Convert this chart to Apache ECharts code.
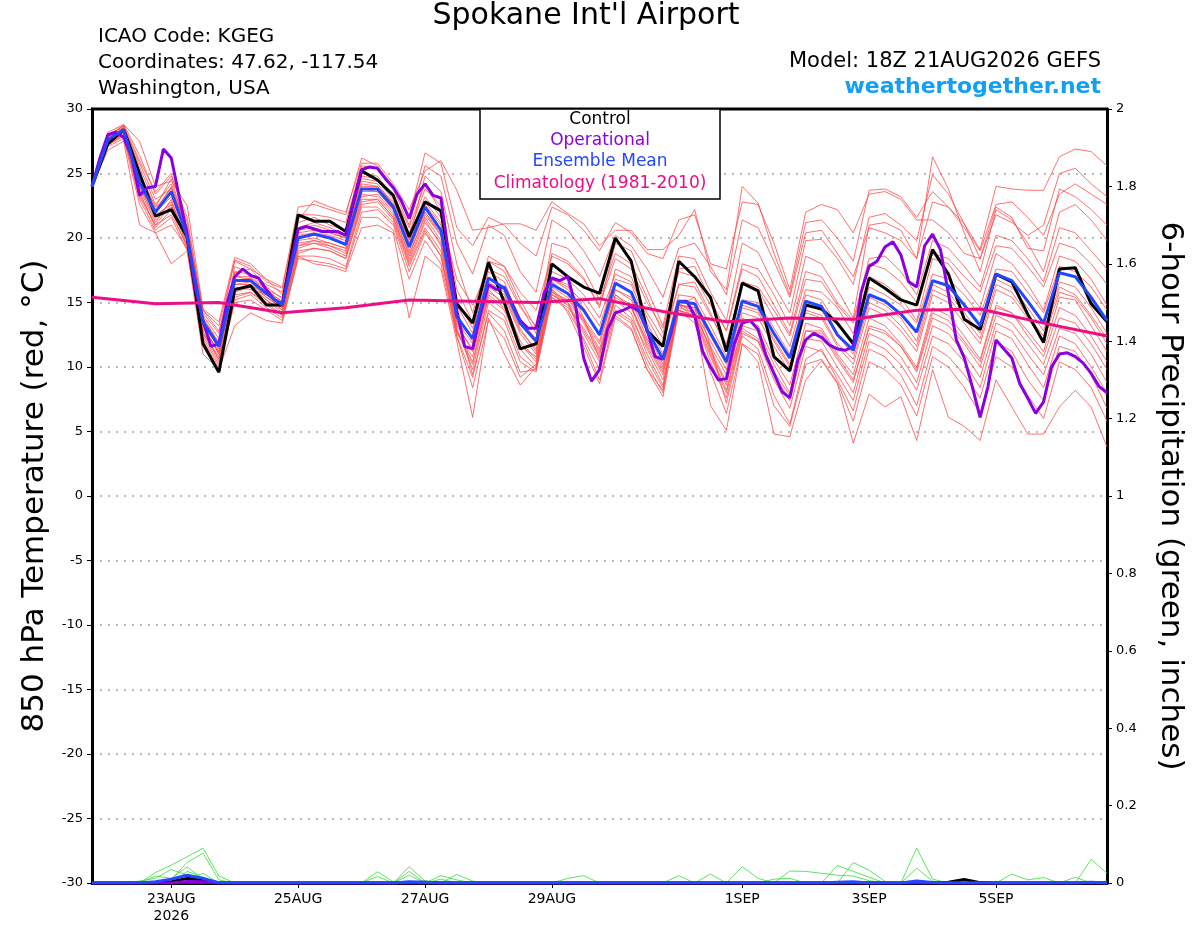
<!DOCTYPE html>
<html>
<head>
<meta charset="utf-8">
<title>Spokane Int'l Airport</title>
<script src="https://cdn.jsdelivr.net/npm/echarts@6.0.0/dist/echarts.min.js"></script>
<style>
  html, body { margin: 0; padding: 0; background: #fff; }
  #chart { width: 1200px; height: 927px; }
</style>
</head>
<body>
<div id="chart"></div>
<script>
// x is hours after 18Z 21AUG2026; ensemble output every 6 h, operational every 3 h
var tickHours = [30, 78, 126, 174, 246, 294, 342];
var tickLabels = ['23AUG\n2026', '25AUG', '27AUG', '29AUG', '1SEP', '3SEP', '5SEP'];

// 850 hPa temperature, deg C
var control = [24.0, 27.3, 28.4, 25.0, 21.7, 22.2, 20.1, 11.8, 9.6, 16.0,
  16.3, 14.8, 14.8, 21.8, 21.3, 21.3, 20.5, 25.2, 24.5, 23.3,
  20.1, 22.8, 22.1, 14.9, 13.4, 18.1, 15.0, 11.4, 11.8, 18.0,
  17.0, 16.2, 15.7, 20.0, 18.2, 12.8, 11.6, 18.2, 17.0, 15.4,
  11.2, 16.5, 15.9, 10.8, 9.7, 14.8, 14.5, 13.4, 11.8, 16.9,
  16.1, 15.2, 14.8, 19.1, 17.2, 13.7, 12.9, 17.2, 16.6, 14.1,
  11.9, 17.6, 17.7, 14.9, 13.5];

var ensMean = [24.0, 27.6, 28.4, 24.3, 22.0, 23.6, 20.1, 13.5, 11.6, 16.7,
  16.7, 15.7, 14.8, 20.0, 20.3, 20.0, 19.5, 23.8, 23.8, 22.4,
  19.3, 22.4, 20.6, 13.9, 12.2, 16.9, 16.1, 13.4, 12.0, 16.4,
  15.7, 14.4, 12.5, 16.5, 15.8, 12.9, 10.6, 15.1, 14.9, 12.6,
  10.4, 15.1, 14.7, 12.6, 10.7, 15.1, 14.7, 12.5, 11.3, 15.6,
  15.1, 14.1, 12.7, 16.7, 16.3, 14.8, 13.2, 17.2, 16.7, 15.1,
  13.4, 17.3, 17.0, 15.4, 13.6];

var operational = [24.0, 26.2, 28.0, 28.2, 27.8, 26.3, 23.3, 23.9, 24.0, 26.9,
  26.2, 23.2, 20.3, 16.2, 13.6, 11.6, 11.8, 14.9, 17.0, 17.6,
  17.1, 16.9, 16.0, 15.2, 14.9, 17.8, 20.7, 20.9, 20.7, 20.5,
  20.5, 20.5, 20.2, 22.9, 25.3, 25.5, 25.4, 24.6, 23.9, 22.9,
  21.5, 23.4, 24.2, 23.3, 23.1, 18.6, 14.4, 11.6, 11.4, 14.1,
  16.4, 16.0, 16.2, 14.9, 13.6, 13.0, 13.0, 15.7, 16.9, 16.7,
  17.0, 14.7, 10.7, 8.9, 9.8, 12.9, 14.2, 14.4, 14.7, 14.3,
  12.9, 10.8, 10.6, 12.6, 15.1, 15.1, 14.0, 11.2, 10.0, 9.0,
  9.1, 11.8, 13.4, 13.6, 12.9, 10.9, 9.5, 8.1, 7.6, 10.5,
  12.1, 12.6, 12.3, 11.7, 11.4, 11.3, 11.6, 15.8, 17.8, 18.2,
  19.3, 19.7, 18.7, 16.6, 16.2, 19.4, 20.3, 19.1, 15.7, 12.1,
  10.7, 8.5, 6.1, 8.5, 12.1, 11.4, 10.7, 8.7, 7.6, 6.4,
  7.3, 10.0, 11.0, 11.1, 10.8, 10.3, 9.5, 8.5, 8.0];

// climatology, one value per day
var climatology = [15.4, 14.9, 15.0, 14.2, 14.6, 15.2, 15.1, 15.0, 15.3,
  14.3, 13.5, 13.8, 13.7, 14.4, 14.5, 13.4, 12.4];

var mem01 = [24.0, 27.9, 28.6, 25.5, 22.6, 24.2, 20.8, 14.0, 12.2, 17.3, 17.6, 16.2, 15.3, 21.2, 21.6, 21.0, 20.6, 25.0, 24.8, 23.2, 20.4, 23.8, 22.5,
  16.0, 13.5, 18.6, 17.8, 15.2, 13.0, 18.8, 18.2, 16.9, 14.6, 19.6, 19.0, 16.0, 13.2, 18.6, 18.4, 15.8, 13.6, 19.6, 18.9,
  16.3, 14.2, 19.8, 19.9, 18.4, 16.4, 21.6, 21.9, 21.0, 19.8, 24.9, 23.4, 21.1, 19.1, 24.0, 23.8, 23.7, 23.7, 26.3, 26.9, 26.7, 25.6];
var mem02 = [24.0, 27.5, 28.3, 24.8, 22.4, 24.6, 20.5, 13.2, 11.0, 17.8, 17.2, 16.4, 15.8, 20.6, 21.0, 20.6, 20.0, 24.6, 24.4, 23.0, 19.9, 24.8, 23.6,
  18.0, 14.2, 18.2, 17.4, 14.8, 12.6, 19.6, 19.2, 17.6, 15.2, 18.8, 18.0, 15.4, 12.6, 17.6, 17.8, 15.2, 12.8, 18.0, 17.6,
  15.6, 13.2, 18.6, 18.0, 16.0, 13.8, 21.0, 21.2, 20.6, 18.4, 26.3, 23.8, 20.4, 17.4, 22.2, 21.4, 19.6, 17.4, 22.0, 22.6, 21.4, 19.8];
var mem03 = [24.0, 27.8, 28.8, 26.4, 23.4, 24.8, 21.6, 14.2, 12.6, 18.3, 17.8, 16.6, 16.1, 21.8, 21.8, 21.6, 21.2, 25.6, 25.4, 23.8, 21.0, 25.6, 24.8,
  19.6, 17.2, 21.0, 20.2, 17.4, 15.8, 21.4, 20.6, 19.0, 17.0, 20.2, 19.4, 17.6, 15.4, 19.2, 19.6, 17.8, 15.6, 21.4, 20.8,
  18.2, 15.4, 20.4, 20.6, 18.8, 17.0, 20.8, 20.4, 19.8, 18.4, 22.8, 22.4, 20.8, 19.0, 22.6, 22.8, 21.6, 20.2, 23.4, 24.2, 23.4, 22.6];
var mem04 = [24.0, 27.4, 28.1, 23.8, 21.2, 23.0, 19.6, 12.8, 10.6, 16.0, 16.2, 15.2, 14.4, 19.4, 19.8, 19.4, 19.0, 23.2, 23.4, 22.0, 18.6, 21.8, 20.2,
  14.8, 12.6, 18.2, 17.8, 15.8, 14.4, 18.6, 18.0, 16.8, 14.8, 18.4, 17.6, 15.0, 13.0, 17.4, 17.0, 14.8, 12.8, 17.6, 17.0,
  14.8, 12.6, 17.4, 17.0, 15.0, 13.6, 18.4, 18.6, 17.4, 15.6, 19.8, 19.2, 17.8, 16.2, 20.2, 19.8, 18.4, 16.6, 20.8, 20.4, 19.0, 17.6];
var mem05 = [24.0, 27.7, 28.5, 24.6, 22.2, 23.9, 20.4, 13.8, 11.9, 16.6, 16.9, 15.9, 15.1, 20.4, 20.6, 20.4, 20.0, 24.2, 24.0, 22.8, 20.0, 23.2, 21.6,
  16.8, 14.8, 17.6, 17.0, 14.6, 13.2, 17.4, 16.8, 15.6, 13.8, 17.2, 16.6, 14.2, 12.2, 16.4, 16.2, 14.0, 11.8, 16.6, 16.2,
  14.4, 12.4, 16.8, 16.6, 14.8, 13.4, 18.0, 17.6, 16.6, 15.0, 18.8, 18.4, 17.0, 15.8, 19.4, 19.2, 17.8, 16.2, 19.6, 19.2, 18.0, 16.4];
var mem06 = [24.0, 27.2, 28.0, 23.2, 21.0, 22.6, 19.4, 12.4, 10.4, 15.4, 15.8, 15.0, 14.0, 19.2, 19.6, 19.2, 18.6, 22.8, 23.0, 21.6, 18.2, 21.2, 19.6,
  13.2, 11.4, 16.6, 15.8, 13.0, 11.2, 16.8, 16.0, 14.6, 12.4, 17.6, 17.0, 13.8, 11.6, 16.4, 16.6, 14.2, 11.4, 16.4, 16.0,
  13.8, 11.6, 16.0, 15.8, 14.6, 12.6, 17.0, 16.4, 15.4, 13.6, 18.4, 18.0, 16.2, 14.6, 18.8, 18.0, 16.4, 14.4, 18.6, 18.2, 16.8, 14.8];
var mem07 = [24.0, 28.0, 28.7, 25.0, 22.4, 23.4, 20.0, 13.6, 11.4, 16.4, 16.4, 15.4, 14.6, 20.8, 21.2, 20.8, 20.2, 24.8, 24.6, 23.4, 20.8, 24.2, 22.0,
  15.2, 13.0, 17.4, 16.6, 13.6, 12.2, 16.8, 16.2, 15.0, 13.2, 16.8, 16.4, 13.4, 11.0, 15.6, 15.4, 13.2, 10.8, 15.2, 15.0,
  13.0, 11.0, 15.6, 15.2, 13.2, 12.0, 16.2, 15.6, 14.8, 13.4, 17.2, 16.8, 15.6, 14.0, 17.6, 17.4, 15.8, 14.2, 17.8, 17.4, 16.2, 14.4];
var mem08 = [24.0, 27.3, 28.2, 24.0, 21.6, 22.8, 19.8, 13.0, 11.2, 16.2, 16.0, 15.6, 14.8, 19.8, 20.0, 19.6, 19.2, 23.6, 23.6, 22.2, 19.0, 22.0, 20.4,
  13.6, 11.8, 16.2, 15.4, 12.6, 11.0, 15.8, 15.0, 13.6, 11.8, 16.0, 15.2, 12.2, 10.0, 14.8, 14.6, 12.4, 10.2, 14.8, 14.4,
  12.2, 10.2, 14.8, 14.4, 12.4, 11.0, 15.4, 14.8, 13.8, 12.0, 16.4, 15.8, 14.2, 12.6, 16.8, 16.2, 14.6, 12.8, 16.6, 16.2, 14.6, 12.6];
var mem09 = [24.0, 27.6, 28.4, 23.6, 20.8, 22.2, 19.2, 12.6, 10.8, 15.8, 16.2, 15.2, 14.2, 18.8, 19.2, 19.0, 18.4, 22.6, 22.8, 21.4, 18.0, 20.8, 19.0,
  12.6, 10.8, 15.8, 15.0, 12.0, 10.6, 15.4, 14.6, 13.0, 11.0, 15.4, 14.6, 11.6, 9.4, 14.4, 14.0, 11.6, 9.4, 14.2, 13.8,
  11.6, 9.6, 14.2, 13.8, 11.6, 10.2, 14.6, 14.0, 12.8, 11.2, 15.6, 15.0, 13.4, 11.8, 16.0, 15.4, 13.8, 12.0, 15.8, 15.4, 13.8, 11.8];
var mem10 = [24.0, 27.5, 28.3, 24.4, 22.0, 24.0, 20.6, 14.4, 12.8, 17.0, 17.0, 16.0, 15.0, 20.2, 20.4, 20.2, 19.8, 24.0, 24.0, 22.6, 19.6, 22.6, 21.0,
  14.2, 12.0, 16.4, 15.6, 12.8, 11.4, 15.8, 15.2, 13.8, 12.0, 16.0, 15.4, 12.6, 10.2, 14.8, 14.4, 12.0, 9.8, 14.6, 14.2,
  12.0, 10.0, 14.4, 14.0, 11.8, 10.6, 15.0, 14.4, 13.2, 11.6, 16.0, 15.4, 13.8, 12.2, 16.4, 15.8, 14.0, 12.4, 16.2, 15.6, 14.0, 12.2];
var mem11 = [24.0, 27.2, 27.9, 23.0, 20.6, 21.6, 19.0, 12.2, 10.2, 15.2, 15.6, 14.6, 13.8, 18.6, 18.6, 18.4, 17.8, 22.0, 22.2, 21.0, 17.4, 20.4, 18.6,
  12.8, 10.2, 15.4, 14.4, 11.4, 10.0, 16.2, 15.4, 13.4, 11.2, 15.2, 14.2, 11.0, 8.6, 14.8, 14.6, 11.2, 8.6, 13.8, 13.2,
  10.6, 8.6, 13.4, 13.0, 11.0, 9.4, 13.8, 13.2, 11.8, 10.0, 14.6, 14.0, 12.4, 10.6, 14.8, 14.2, 12.4, 10.8, 14.6, 14.0, 12.4, 10.4];
var mem12 = [24.0, 27.4, 28.2, 24.2, 21.8, 22.6, 19.8, 13.2, 11.0, 16.4, 16.6, 15.4, 14.6, 19.6, 19.8, 19.6, 19.2, 23.4, 23.2, 21.8, 18.8, 21.6, 19.8,
  13.0, 9.8, 15.0, 14.0, 10.8, 9.8, 15.6, 14.8, 12.6, 10.4, 14.8, 13.8, 11.4, 9.0, 14.4, 14.0, 11.0, 8.2, 13.2, 12.8,
  10.2, 8.0, 12.8, 12.6, 10.6, 8.8, 13.2, 12.8, 11.6, 9.6, 13.8, 13.2, 11.8, 10.0, 14.0, 13.4, 11.8, 10.2, 13.8, 13.4, 11.8, 9.8];
var mem13 = [24.0, 27.8, 28.5, 24.8, 22.0, 23.2, 20.2, 13.4, 11.6, 17.0, 16.8, 15.8, 14.8, 20.0, 20.2, 20.0, 19.4, 23.8, 23.6, 22.2, 19.4, 22.0, 20.2,
  13.4, 11.2, 16.0, 14.8, 11.8, 10.4, 16.0, 15.0, 12.8, 10.8, 15.6, 14.8, 11.8, 9.6, 14.6, 14.2, 11.4, 8.8, 13.0, 12.2,
  9.4, 7.4, 12.2, 12.0, 10.0, 8.0, 12.6, 12.0, 10.8, 8.8, 13.2, 12.6, 11.0, 9.2, 13.4, 12.8, 11.0, 9.4, 13.0, 12.6, 11.0, 8.8];
var mem14 = [24.0, 27.1, 27.7, 22.6, 20.4, 21.0, 19.2, 12.0, 10.0, 15.0, 15.2, 14.4, 13.6, 18.4, 18.2, 18.0, 17.6, 21.6, 21.6, 20.6, 16.8, 19.8, 18.0,
  12.4, 9.2, 14.4, 13.6, 10.4, 9.6, 15.4, 14.4, 12.2, 9.8, 14.4, 13.6, 10.6, 8.4, 14.4, 13.8, 10.4, 7.6, 12.6, 12.0,
  9.0, 6.8, 11.6, 11.2, 9.4, 7.4, 12.0, 11.4, 10.2, 8.2, 12.4, 11.8, 10.4, 8.4, 12.8, 12.2, 10.2, 8.4, 12.4, 11.8, 10.0, 8.0];
var mem15 = [24.0, 27.6, 28.6, 25.8, 23.0, 23.8, 20.8, 13.8, 11.8, 17.4, 17.2, 16.0, 15.4, 20.6, 20.8, 20.4, 20.0, 24.4, 24.2, 22.6, 19.8, 22.8, 21.2,
  13.8, 9.4, 14.2, 12.8, 9.6, 9.8, 15.6, 15.0, 12.0, 9.0, 14.2, 13.4, 10.2, 8.0, 14.8, 15.4, 11.6, 7.2, 12.4, 11.4,
  7.8, 5.6, 10.6, 11.4, 9.0, 6.6, 11.4, 10.8, 9.4, 7.0, 11.6, 10.8, 9.4, 7.6, 12.0, 11.2, 9.0, 7.4, 11.6, 11.2, 9.4, 6.8];
var mem16 = [24.0, 27.3, 28.0, 23.4, 21.0, 21.8, 19.4, 12.6, 10.6, 15.6, 15.8, 14.8, 14.0, 19.0, 19.2, 19.0, 18.4, 22.4, 22.4, 21.2, 17.8, 20.6, 18.6,
  12.4, 8.4, 13.6, 12.2, 9.2, 10.2, 16.8, 16.4, 13.8, 10.6, 14.0, 13.0, 9.8, 7.7, 14.4, 13.4, 9.6, 6.4, 11.8, 11.0,
  7.0, 5.4, 10.2, 10.6, 8.8, 5.8, 10.4, 9.8, 8.6, 6.2, 10.8, 10.0, 8.4, 6.4, 10.8, 10.0, 7.8, 6.0, 10.4, 9.8, 8.4, 5.8];
var mem17 = [24.0, 27.9, 28.7, 26.0, 23.6, 25.0, 21.2, 14.4, 13.2, 18.2, 17.6, 16.8, 16.2, 22.4, 22.6, 22.2, 21.8, 26.2, 25.6, 24.0, 21.6, 26.6, 25.8,
  20.8, 19.4, 21.6, 21.0, 19.6, 18.6, 22.4, 21.8, 20.6, 19.0, 21.2, 20.4, 18.8, 18.4, 21.4, 21.8, 18.0, 17.6, 22.8, 22.6,
  19.6, 16.0, 22.0, 22.6, 22.2, 20.4, 23.4, 23.6, 23.0, 21.4, 21.4, 20.4, 18.8, 18.4, 21.8, 21.2, 20.2, 21.0, 25.0, 25.4, 24.2, 23.2];
var mem18 = [24.0, 26.8, 27.5, 21.0, 20.4, 18.0, 19.0, 11.0, 9.8, 13.2, 14.2, 13.6, 13.4, 18.6, 18.0, 17.8, 17.4, 20.8, 21.0, 20.4, 13.8, 18.6, 17.6,
  12.0, 6.1, 13.8, 11.0, 8.6, 10.0, 16.0, 14.2, 11.6, 8.7, 13.8, 12.9, 9.8, 8.2, 15.0, 14.0, 7.0, 5.1, 11.8, 10.4,
  4.8, 4.6, 9.0, 10.5, 8.7, 4.1, 7.9, 6.9, 7.7, 4.3, 9.8, 6.1, 5.4, 4.3, 9.0, 6.9, 4.8, 4.8, 6.9, 8.2, 6.9, 3.8];
var mem19 = [24.0, 28.2, 28.8, 27.5, 24.0, 24.4, 22.5, 14.5, 13.5, 18.5, 18.0, 16.8, 15.6, 21.4, 22.9, 22.4, 22.0, 25.8, 25.8, 24.2, 22.2, 25.2, 26.0,
  23.7, 20.6, 20.8, 21.1, 21.1, 20.6, 22.8, 21.9, 21.1, 19.4, 20.6, 20.6, 19.1, 19.1, 20.2, 22.2, 17.4, 16.0, 24.0, 22.7,
  18.8, 15.6, 21.2, 21.4, 20.0, 18.2, 23.7, 23.8, 23.2, 21.6, 23.6, 22.4, 21.1, 18.4, 22.4, 21.6, 19.2, 19.0, 23.8, 23.2, 22.2, 21.0];
var mem20 = [24.0, 27.5, 28.4, 24.0, 21.4, 22.4, 19.6, 13.0, 11.2, 16.0, 16.4, 15.6, 14.4, 19.4, 19.6, 19.4, 18.8, 23.0, 23.0, 21.6, 18.4, 21.4, 19.4,
  12.8, 10.4, 15.6, 14.6, 11.6, 10.8, 16.6, 15.6, 13.6, 11.4, 15.6, 14.6, 12.0, 9.8, 14.8, 13.8, 10.8, 8.0, 12.8, 12.0,
  9.6, 7.8, 12.8, 12.8, 10.8, 9.0, 13.0, 12.6, 11.6, 9.8, 14.2, 13.6, 12.0, 10.4, 14.6, 14.2, 12.8, 11.2, 15.4, 15.2, 13.2, 11.2];
var members = [mem01, mem02, mem03, mem04, mem05, mem06, mem07, mem08, mem09, mem10,
  mem11, mem12, mem13, mem14, mem15, mem16, mem17, mem18, mem19, mem20];

// 6-hour precipitation, inches
var pcp01 = [0, 0, 0, 0, .027, .046, .068, .090, .018, 0,  0, 0, 0, 0, 0, 0, 0, 0, 0, 0,
  .042, .005, 0, 0, 0, 0, 0, 0, 0, 0,  0, 0, 0, 0, 0, 0, 0, 0, 0, 0,
  0, 0, 0, 0, 0, 0, 0, 0, 0, 0,  0, 0, .090, .010, 0, 0, 0, 0, 0, 0,  0, 0, 0, 0, 0];
var pcp02 = [0, 0, 0, 0, 0, .010, .053, .077, .008, 0,  0, 0, 0, 0, 0, 0, 0, 0, .029, .003,
  0, 0, 0, 0, 0, 0, 0, 0, 0, 0,  0, 0, 0, 0, 0, 0, 0, 0, 0, 0,
  0, .042, .012, 0, 0, 0, 0, 0, 0, 0,  0, 0, 0, 0, 0, 0, 0, 0, 0, 0,  0, 0, 0, 0, 0];
var pcp03 = [0, 0, 0, 0, .018, .012, .042, .010, 0, 0,  0, 0, 0, 0, 0, 0, 0, 0, 0, 0,
  0, 0, .019, .008, 0, 0, 0, 0, 0, 0,  0, 0, 0, 0, 0, 0, 0, 0, 0, 0,
  0, 0, 0, 0, 0, 0, 0, 0, .053, .033,  .004, 0, 0, 0, 0, 0, 0, 0, 0, 0,  0, 0, 0, 0, 0];
var pcp04 = [0, 0, 0, .005, .012, .035, .020, .005, 0, 0,  0, 0, 0, 0, 0, 0, 0, 0, .017, 0,
  .030, 0, 0, .022, .005, 0, 0, 0, 0, 0,  0, 0, 0, 0, 0, 0, 0, 0, 0, 0,
  0, 0, 0, 0, 0, 0, 0, 0, 0, 0,  0, 0, 0, 0, 0, 0, 0, 0, 0, 0,  0, 0, 0, .061, .025];
var pcp05 = [0, 0, 0, 0, 0, 0, .030, .015, 0, 0,  0, 0, 0, 0, 0, 0, 0, 0, 0, 0,
  .020, 0, 0, 0, 0, 0, 0, 0, 0, 0,  .012, .019, 0, 0, 0, 0, 0, .019, 0, .023,
  0, 0, 0, 0, 0, 0, 0, 0, 0, 0,  0, 0, 0, 0, 0, 0, 0, 0, 0, 0,  0, 0, 0, 0, 0];
var pcp06 = [0, 0, 0, 0, 0, 0, 0, 0, 0, 0,  0, 0, 0, 0, 0, 0, 0, 0, 0, 0,
  0, 0, 0, 0, 0, 0, 0, 0, 0, 0,  0, 0, 0, 0, 0, 0, 0, 0, 0, 0,
  0, 0, 0, 0, .031, .030, .025, .020, .018, .006,  0, 0, 0, 0, 0, 0, 0, 0, .023, .008,  .014, 0, 0, 0, 0];
var pcp07 = [0, 0, 0, 0, 0, 0, 0, 0, 0, 0,  0, 0, 0, 0, 0, 0, 0, 0, 0, 0,
  0, 0, 0, 0, 0, 0, 0, 0, 0, 0,  0, 0, 0, 0, 0, 0, 0, 0, 0, 0,
  0, 0, 0, 0, 0, 0, 0, .045, .030, .015,  0, 0, .038, .005, 0, 0, 0, 0, 0, 0,  0, 0, .015, 0, 0];
var pcp08 = [0, 0, 0, 0, 0, 0, .010, .025, 0, 0,  0, 0, 0, 0, 0, 0, 0, 0, 0, 0,
  0, 0, .010, 0, 0, 0, 0, 0, 0, 0,  0, 0, 0, 0, 0, 0, 0, 0, 0, 0,
  0, 0, 0, .010, .012, 0, 0, 0, 0, 0,  0, 0, 0, 0, 0, 0, 0, 0, 0, 0,  0, 0, 0, 0, .005];
var pcpMembers = [pcp01, pcp02, pcp03, pcp04, pcp05, pcp06, pcp07, pcp08];

var pcpControl = [0, 0, 0, 0, 0, .003, .012, .006, 0, 0,  0, 0, 0, 0, 0, 0, 0, 0, 0, 0,
  0, .002, 0, 0, 0, 0, 0, 0, 0, 0,  0, 0, 0, 0, 0, 0, 0, 0, 0, 0,
  0, 0, 0, 0, 0, 0, 0, 0, 0, 0,  0, 0, 0, 0, .002, .009, .001, 0, 0, 0,  0, 0, 0, 0, 0];
var pcpMean = [0, 0, 0, 0, .003, .010, .020, .012, .001, 0,  0, 0, 0, 0, 0, 0, 0, 0, 0, 0,
  .003, .002, 0, 0, 0, 0, 0, 0, 0, 0,  0, 0, 0, 0, 0, 0, 0, 0, 0, 0,
  0, 0, 0, 0, 0, 0, 0, .002, .003, 0,  0, 0, .005, .001, 0, 0, 0, 0, 0, 0,  0, 0, 0, .002, 0];
var pcpOperational = [0, 0, 0, 0, 0, 0, .004, .003, 0, 0,  0, 0, 0, 0, 0, 0, 0, 0, 0, 0,
  0, 0, 0, 0, 0, 0, 0, 0, 0, 0,  0, 0, 0, 0, 0, 0, 0, 0, 0, 0,
  0, 0, 0, 0, 0, 0, 0, 0, 0, 0,  0, 0, 0, 0, 0, 0, 0, 0, 0, 0,  0, 0, 0, 0, 0];

var FONT = '"DejaVu Sans", "Liberation Sans", sans-serif';

// pair values with forecast hour
function at(step, arr) {
  return arr.map(function (v, i) { return [i * step, v]; });
}

function line(data, color, width, axis, z) {
  return {
    type: 'line', data: data, yAxisIndex: axis, symbol: 'none', z: z,
    silent: true, animation: false, emphasis: { disabled: true },
    lineStyle: { color: color, width: width }
  };
}

var series = [];
members.forEach(function (m) { series.push(line(at(6, m), '#ff4d4d', 0.8, 0, 2)); });
pcpMembers.forEach(function (p) { series.push(line(at(6, p), '#33dd33', 0.8, 1, 2)); });
series.push(line(at(6, pcpControl), '#000000', 3, 1, 3));
series.push(line(at(6, pcpOperational), '#8a00e0', 3, 1, 3));
series.push(line(at(6, pcpMean), '#2347ff', 3, 1, 3));
series.push(line(at(6, control), '#000000', 3, 0, 4));
series.push(line(at(3, operational), '#8a00e0', 3, 0, 4));
series.push(line(at(6, ensMean), '#2347ff', 3, 0, 4));
series.push(line(at(24, climatology), '#ec0e86', 3, 0, 5));

var chart = echarts.init(document.getElementById('chart'));
chart.setOption({
  backgroundColor: '#ffffff',
  animation: false,
  grid: { left: 92, right: 93, top: 109, bottom: 44 },
  xAxis: {
    type: 'value', min: 0, max: 384,
    axisLine: { onZero: false, lineStyle: { color: '#000', width: 3 } },
    axisTick: { customValues: tickHours, length: 5, lineStyle: { color: '#000', width: 1 } },
    axisLabel: {
      customValues: tickHours, color: '#000', fontFamily: FONT, fontSize: 14, lineHeight: 17, margin: 8,
      formatter: function (v) { return tickLabels[tickHours.indexOf(Math.round(v))]; }
    },
    splitLine: { show: false }
  },
  yAxis: [{
    type: 'value', min: -30, max: 30, interval: 5, position: 'left',
    name: '850 hPa Temperature (red, °C)', nameLocation: 'middle', nameGap: 40,
    nameTextStyle: { fontFamily: FONT, fontSize: 31, color: '#000' },
    axisLine: { show: true, lineStyle: { color: '#000', width: 3 } },
    axisTick: { show: true, length: 5, lineStyle: { color: '#000', width: 1 } },
    axisLabel: { color: '#000', fontFamily: FONT, fontSize: 13, margin: 9 },
    splitLine: { show: true, lineStyle: { color: '#a0a0a0', width: 1.5, type: [2, 6] } }
  }, {
    type: 'value', min: 0, max: 2, interval: 0.2, position: 'right',
    name: '6-hour Precipitation (green, inches)', nameLocation: 'middle', nameGap: 48, nameRotate: -90,
    nameTextStyle: { fontFamily: FONT, fontSize: 31, color: '#000' },
    axisLine: { show: true, lineStyle: { color: '#000', width: 3 } },
    axisTick: { show: true, length: 5, lineStyle: { color: '#000', width: 1 } },
    axisLabel: {
      color: '#000', fontFamily: FONT, fontSize: 13, margin: 9,
      formatter: function (v) { return String(+v.toFixed(1)); }
    },
    splitLine: { show: false }
  }],
  graphic: [
    { type: 'line', z: 40, shape: { x1: 91, y1: 109, x2: 1108, y2: 109 }, style: { stroke: '#000', lineWidth: 3 } },
    { type: 'text', z: 50, style: { text: "Spokane Int'l Airport", x: 586, y: 31, textAlign: 'center', textVerticalAlign: 'bottom', font: '30px ' + FONT, fill: '#000' } },
    { type: 'text', z: 50, style: { text: 'ICAO Code: KGEG', x: 98, y: 47, textVerticalAlign: 'bottom', font: '20px ' + FONT, fill: '#000' } },
    { type: 'text', z: 50, style: { text: 'Coordinates: 47.62, -117.54', x: 98, y: 73, textVerticalAlign: 'bottom', font: '20px ' + FONT, fill: '#000' } },
    { type: 'text', z: 50, style: { text: 'Washington, USA', x: 98, y: 99, textVerticalAlign: 'bottom', font: '20px ' + FONT, fill: '#000' } },
    { type: 'text', z: 50, style: { text: 'Model: 18Z 21AUG2026 GEFS', x: 1101, y: 72, textAlign: 'right', textVerticalAlign: 'bottom', font: '21px ' + FONT, fill: '#000' } },
    { type: 'text', z: 50, style: { text: 'weathertogether.net', x: 1101, y: 98, textAlign: 'right', textVerticalAlign: 'bottom', font: 'bold 22px ' + FONT, fill: '#12a0f4' } },
    { type: 'rect', z: 60, shape: { x: 480, y: 109, width: 240, height: 90 }, style: { fill: '#fff', stroke: '#000', lineWidth: 1.5 } },
    { type: 'text', z: 61, style: { text: 'Control', x: 600, y: 128, textAlign: 'center', textVerticalAlign: 'bottom', font: '17px ' + FONT, fill: '#000' } },
    { type: 'text', z: 61, style: { text: 'Operational', x: 600, y: 149, textAlign: 'center', textVerticalAlign: 'bottom', font: '17px ' + FONT, fill: '#8a00e0' } },
    { type: 'text', z: 61, style: { text: 'Ensemble Mean', x: 600, y: 170, textAlign: 'center', textVerticalAlign: 'bottom', font: '17px ' + FONT, fill: '#2347ff' } },
    { type: 'text', z: 61, style: { text: 'Climatology (1981-2010)', x: 600, y: 192, textAlign: 'center', textVerticalAlign: 'bottom', font: '17px ' + FONT, fill: '#ec0e86' } }
  ],
  series: series
});
</script>
</body>
</html>
